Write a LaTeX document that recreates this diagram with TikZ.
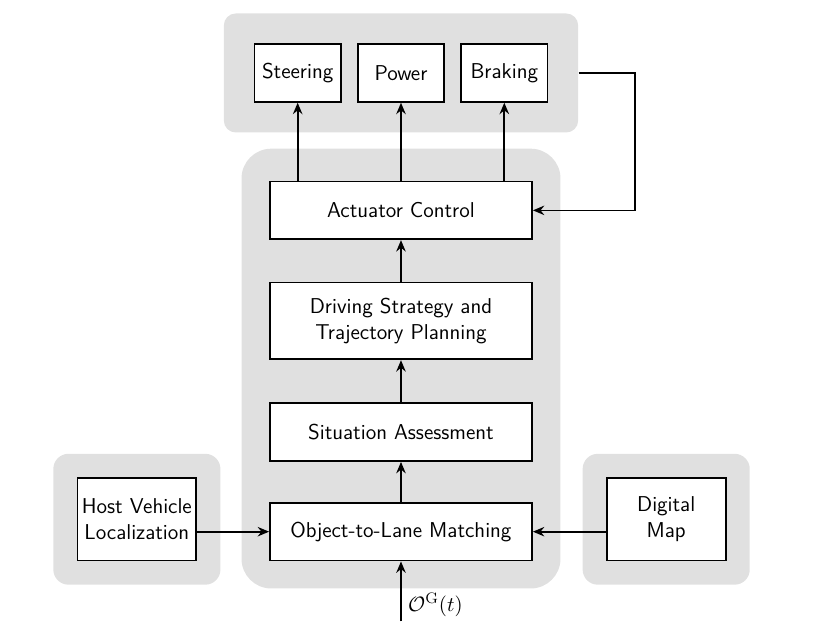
\documentclass[tikz,border=0pt]{standalone}
\usepackage{amsmath, amssymb}
\usetikzlibrary{arrows.meta, positioning, fit, backgrounds}

\begin{document}
\begin{tikzpicture}[font=\sffamily\fontsize{11.3}{13.8}\selectfont,
	block/.style={rectangle, draw, line width=0.9pt, fill=white, minimum width=4.85cm, minimum height=1.07cm, align=center},
	unit/.style={rectangle, draw, line width=0.9pt, fill=white, minimum width=1.6cm, minimum height=1.07cm},
	side/.style={rectangle, draw, line width=0.9pt, fill=white, minimum width=2.2cm, minimum height=1.53cm, align=center, inner sep=1pt},
	group/.style={fill=black!12, draw=none},
	conn/.style={line width=0.9pt, -{Stealth[length=6pt, width=5pt, inset=2pt]}}]
				\useasboundingbox (0,0) rectangle (15.19,11.78);
				\node[block] (olm) at (7.419,1.943) {Object-to-Lane Matching};
				\node[block, above = 0.74cm of olm] (sa) {Situation Assessment};
				\node[block, above = 0.78cm of sa, minimum height=1.42cm] (dstp) {Driving Strategy and\\ Trajectory Planning};
				\node[block, above = 0.77cm of dstp] (ac) {Actuator Control};
				\node[unit, above = 1.44cm of ac] (power) {Power};
				\node[unit, left = 0.28cm of power] (steer) {Steering};
				\node[unit, right = 0.28cm of power] (brake) {Braking};
				\node[side, left = 1.33cm of olm.south west, anchor=south east] (hvl) {Host Vehicle\\ Localization};
				\node[side, right = 1.35cm of olm.south east, anchor=south west] (map) {Digital\\ Map};
				\coordinate[below = 1.11cm of olm.south] (input);
				\coordinate[above = 0.09cm of ac.north] (actop);
				
				\begin{scope}[on background layer]
				\node[group, rounded corners=0.22cm, fit=(steer)(brake), inner sep=0.55cm] (actgrp) {};
				\node[group, rounded corners=0.55cm, fit=(ac)(actop)(olm), inner xsep=0.51cm, inner ysep=0.5cm] (maingrp) {};
				\node[group, rounded corners=0.28cm, fit=(hvl), inner sep=0.43cm] (hvlgrp) {};
				\node[group, rounded corners=0.28cm, fit=(map), inner sep=0.43cm] (mapgrp) {};
				\end{scope}
				
				\draw[conn] (olm) -- (sa);
				\draw[conn] (sa) -- (dstp);
				\draw[conn] (dstp) -- (ac);
				\draw[conn] (ac.north -| steer) -- (steer.south);
				\draw[conn] (ac.north -| power) -- (power.south);
				\draw[conn] (ac.north -| brake) -- (brake.south);
				\draw[conn] (actgrp.east) -- ++(1.04,0) |- (ac.east);
				\draw[conn] (hvl.east |- olm.west) -- (olm.west);
				\draw[conn] (map.west |- olm.east) -- (olm.east);
				\draw[conn] (input) -- node[right, pos=0.28] {$\mathcal{O}^{\mathrm{G}}(t)$} (olm.south);
\end{tikzpicture}
\end{document}
